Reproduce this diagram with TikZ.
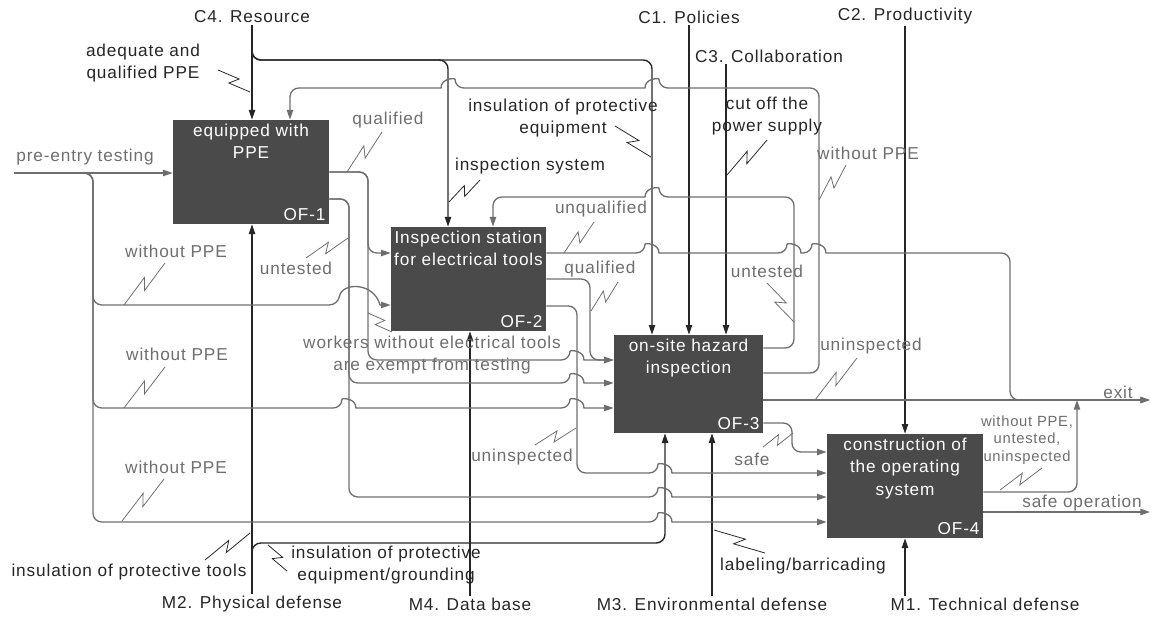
\documentclass[tikz,border=0pt]{standalone}
\usepackage{fontspec}
\setmainfont{Liberation Sans}[LetterSpace=5]
\usetikzlibrary{arrows.meta, calc, positioning}

\definecolor{boxgray}{HTML}{4A4A4A}
\definecolor{flowgray}{HTML}{6E6E6E}
\definecolor{inkblack}{HTML}{262626}

% a line that jumps over a crossing line (going right / going left)
\newcommand{\jumpR}[2]{-- (#1-7,#2) [sharp corners] .. controls (#1-7,#2-10) and (#1+7,#2-10) .. (#1+7,#2) -- (#1+8,#2) [rounded corners=5pt]}
\newcommand{\jumpL}[2]{-- (#1+7,#2) [sharp corners] .. controls (#1+7,#2-10) and (#1-7,#2-10) .. (#1-7,#2) -- (#1-8,#2) [rounded corners=5pt]}
% squiggle from a label to its line
\newcommand{\squig}[3][inkblack]{\draw[Sq,#1] (#2) -- ($(#2)!0.58!(#3)!2.6pt!90:(#3)$) -- ($(#2)!0.42!(#3)!2.6pt!-90:(#3)$) -- (#3);}

\begin{document}
\begin{tikzpicture}[
      x = 0.02cm, y = -0.02cm,                      % pixel grid, y downwards
      > = {Triangle[length=5.5pt,width=3.6pt]},    % arrow head style
      font = \fontsize{9.8}{12.5}\selectfont
    ]
    \useasboundingbox (0,0) rectangle (1153,619);

    \tikzstyle{Box}=[      % Defines style for the activity boxes
      fill = boxgray,
      inner sep = 0pt
    ]
    \tikzstyle{BoxT}=[     % title inside a box
      text = white, align = center, anchor = north,
      inner sep = 2pt, font = \fontsize{9.8}{13}\selectfont
    ]
    \tikzstyle{BoxId}=[    % number in the lower right corner
      text = white, anchor = south east, inner sep = 2pt
    ]
    \tikzstyle{K}=[text = inkblack, align = center, inner sep = 1pt]
    \tikzstyle{G}=[text = flowgray, align = center, inner sep = 1pt]
    \tikzstyle{Ctl}=[draw = inkblack, line width = 0.8pt, rounded corners = 5pt]
    \tikzstyle{Flw}=[draw = flowgray, line width = 0.75pt, rounded corners = 5pt]
    \tikzstyle{Sq}=[line width = 0.45pt]

    % Definition of the boxes
    \node[Box, minimum width=3.12cm, minimum height=2.08cm] (of1) at (251,172) {};
    \node[Box, minimum width=3.10cm, minimum height=2.08cm] (of2) at (468.5,279) {};
    \node[Box, minimum width=2.98cm, minimum height=1.96cm] (of3) at (688.5,384) {};
    \node[Box, minimum width=3.12cm, minimum height=2.08cm] (of4) at (905,486) {};

    \node[BoxT] (of1t) at (of1.north) {equipped with\\PPE};
    \node[BoxT] (of2t) at (of2.north) {Inspection station\\for electrical tools};
    \node[BoxT] (of3t) at (of3.north) {on-site hazard\\inspection};
    \node[BoxT] (of4t) at (of4.north) {construction of\\the operating\\system};
    \node[BoxId] (of1id) at (of1.south east) {OF-1};
    \node[BoxId] (of2id) at (of2.south east) {OF-2};
    \node[BoxId] (of3id) at (of3.south east) {OF-3};
    \node[BoxId] (of4id) at (of4.south east) {OF-4};

    % Controls and mechanisms
    \node[K] (c4) at (252,17) {C4. Resource};
    \node[K] (c1) at (689,17) {C1. Policies};
    \node[K] (c3) at (769,56) {C3. Collaboration};
    \node[K] (c2) at (905,16) {C2. Productivity};
    \node[K] (m2) at (252,604) {M2. Physical defense};
    \node[K] (m4) at (470,604) {M4. Data base};
    \node[K] (m3) at (712,604) {M3. Environmental defense};
    \node[K] (m1) at (985,604) {M1. Technical defense};

    \draw[Ctl,->] (c4.south) -- (c4 |- of1.north);
    \draw[Ctl,->] (c4.south) -- (252,60) -- (448,60) -- (448,0 |- of2.north);
    \draw[Ctl,->] (c4.south) -- (252,60) -- (652,60) -- (652,0 |- of3.north);
    \draw[Ctl,->] (c1.south) -- (c1 |- of3.north);
    \draw[Ctl,->] (726,0 |- c3.south) -- (726,0 |- of3.north);
    \draw[Ctl,->] (c2.south) -- (c2 |- of4.north);

    \draw[Ctl,->] (m2.north) -- (m2 |- of1.south);
    \draw[Ctl,->] (m2.north) -- (252,543) -- (665,543) -- (665,0 |- of3.south);
    \draw[Ctl,->] (m4.north) -- (m4 |- of2.south);
    \draw[Ctl,->] (m3.north) -- (m3 |- of3.south);
    \draw[Ctl,->] (of4.south |- m1.north) -- (of4.south);

    % Definition of the flows
    \coordinate (in) at (14,173);
    \coordinate (exit) at (1150,400);
    \coordinate (done) at (1150,512);

    \draw[Flw,->] (in) -- (of1.west |- in);
    \draw[Flw,->] (in) -- (93,173) -- (93,305) -- (338,305) [sharp corners]
      .. controls (342,282) and (374,282) .. (380,305) -- (381,305) -- (of2.west |- 0,305);
    \draw[Flw,->] (in) -- (93,173) -- (93,408) \jumpR{349}{408} \jumpR{577}{408} -- (of3.west |- 0,408);
    \draw[Flw,->] (in) -- (93,173) -- (93,522) \jumpR{665}{522} -- (of4.west |- 0,522);

    \draw[Flw,->] (of1.east |- 0,172) -- (368,172) -- (368,253) -- (of2.west |- 0,253);
    \draw[Flw,->] (of1.east |- 0,172) -- (368,172) -- (368,360) \jumpR{577}{360} -- (of3.west |- 0,360);
    \draw[Flw,->] (of1.east |- 0,199) -- (349,199) -- (349,383) \jumpR{577}{383} -- (of3.west |- 0,383);
    \draw[Flw,->] (of1.east |- 0,199) -- (349,199) -- (349,497) \jumpR{665}{497} -- (of4.west |- 0,497);

    \draw[Flw,->] (of2.east |- 0,253) \jumpR{652}{253} \jumpR{794}{253} \jumpR{819}{253} -- (1010,253) -- (1010,400) -- (exit);
    \draw[Flw,->] (of2.east |- 0,279) -- (590,279) -- (590,360) -- (of3.west |- 0,360);
    \draw[Flw,->] (of2.east |- 0,306) -- (577,306) -- (577,473) \jumpR{665}{473} -- (of4.west |- 0,473);

    \draw[Flw,->] (of3.east |- 0,348) -- (794,348) -- (794,197) \jumpL{652}{197} -- (493,197) -- (493,0 |- of2.north);
    \draw[Flw,->] (of3.east |- 0,373) -- (819,373) -- (819,88) \jumpL{652}{88} \jumpL{448}{88} -- (290,88) -- (290,0 |- of1.north);
    \draw[Flw,->] (of3.east |- exit) -- (exit);
    \draw[Flw,->] (of3.east |- 0,423) -- (792,423) -- (792,452) -- (of4.west |- 0,452);

    \draw[Flw,->] (of4.east |- 0,492) -- (1077,492) -- (1077,0 |- exit);
    \draw[Flw,->] (of4.east |- done) -- (done);

    % Labels of the arrows
    \node[K] (adq) at (143,63) {adequate and\\qualified PPE};
    \node[K] (insEq) at (563,118) {insulation of protective\\equipment};
    \node[K] (insSys) at (530,166) {inspection system};
    \node[K] (cut) at (767,116) {cut off the\\power supply};
    \node[K] (insTl) at (129,572) {insulation of protective tools};
    \node[K] (insGr) at (386,565) {insulation of protective\\equipment/grounding};
    \node[K] (lab) at (803,566) {labeling/barricading};

    \node[G] (pre) at (85,157) {pre-entry testing};
    \node[G] (q1) at (388,120) {qualified};
    \node[G] (wo3) at (868,153) {without PPE};
    \node[G] (uq) at (601,209) {unqualified};
    \node[G] (wo1) at (176,251) {without PPE};
    \node[G] (ut1) at (296,268) {untested};
    \node[G] (q2) at (600,269) {qualified};
    \node[G] (ut3) at (767,271) {untested};
    \node[G] (wk) at (432,355) {workers without electrical tools\\are exempt from testing};
    \node[G] (wo2) at (177,354) {without PPE};
    \node[G] (ui3) at (871,346) {uninspected};
    \node[G] (ex) at (1118,392) {exit};
    \node[G] (ui2) at (522,457) {uninspected};
    \node[G] (sf) at (752,459) {safe};
    \node[G] (wo4) at (176,467) {without PPE};
    \node[G, font=\fontsize{8.4}{10}\selectfont] (bad) at (1027,440) {without PPE,\\untested,\\uninspected};
    \node[G] (sop) at (1082,503) {safe operation};

    \squig{218,70}{250,92}
    \squig{615,126}{651,157}
    \squig{480,180}{449,202}
    \squig{767,140}{727,175}
    \squig{205,560}{250,533}
    \squig{287,571}{268,545}
    \squig{765,553}{714,530}

    \squig[flowgray]{382,132}{347,172}
    \squig[flowgray]{846,165}{819,200}
    \squig[flowgray]{594,222}{564,253}
    \squig[flowgray]{165,263}{124,305}
    \squig[flowgray]{306,258}{348,238}
    \squig[flowgray]{618,282}{591,311}
    \squig[flowgray]{767,283}{794,322}
    \squig[flowgray]{392,332}{368,313}
    \squig[flowgray]{165,367}{124,408}
    \squig[flowgray]{857,358}{815,400}
    \squig[flowgray]{535,445}{576,428}
    \squig[flowgray]{763,447}{793,433}
    \squig[flowgray]{164,479}{122,521}
    \squig[flowgray]{1042,468}{1000,490}

  \end{tikzpicture}
\end{document}
